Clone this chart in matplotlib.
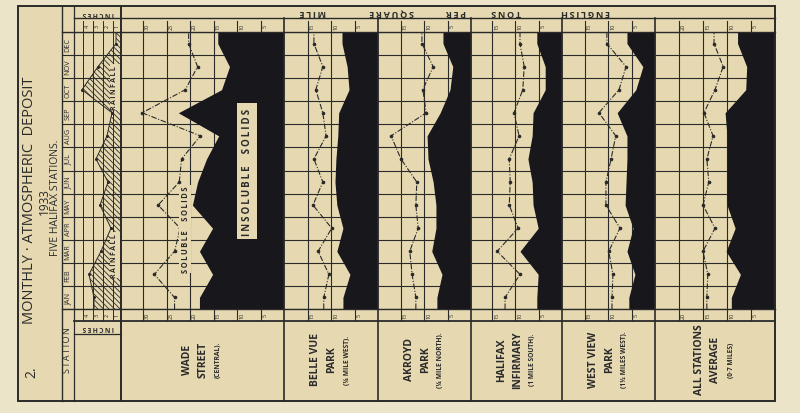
import matplotlib
matplotlib.use("Agg")
import matplotlib.pyplot as plt

plt.rcParams['font.family'] = ['Open Sans', 'DejaVu Sans']
plt.rcParams['hatch.linewidth'] = 0.6

MONTHS = ["JAN", "FEB", "MAR", "APR", "MAY", "JUN",
          "JUL", "AUG", "SEP", "OCT", "NOV", "DEC"]

# rainfall, inches (JAN..DEC)
rainfall = [2.9, 3.4, 2.2, 1.2, 2.3, 1.5, 2.7, 1.6, 1.1, 4.1, 2.5, 0.7]

# english tons per square mile (JAN..DEC)
wade_insoluble = [18.0, 15.2, 18.0, 15.2, 19.5, 18.4, 16.5, 13.9, 22.5, 13.3, 11.6, 14.1]
wade_soluble = [23.3, 27.6, 23.3, 22.1, 26.8, 22.3, 21.8, 17.8, 30.2, 21.0, 18.4, 20.3]

bellevue_insoluble = [7.5, 6.0, 8.8, 7.5, 8.8, 9.2, 9.0, 8.6, 8.4, 6.2, 6.6, 7.7]
bellevue_soluble = [11.6, 10.5, 12.8, 9.9, 13.9, 11.8, 13.7, 11.1, 11.8, 13.3, 11.8, 13.7]

akroyd_insoluble = [7.3, 6.2, 8.4, 7.5, 7.5, 8.1, 9.2, 9.4, 6.6, 4.5, 3.9, 6.0]
akroyd_soluble = [11.8, 12.6, 13.1, 11.3, 11.8, 11.6, 15.0, 17.1, 9.6, 10.3, 8.1, 10.5]

infirmary_insoluble = [5.4, 5.1, 9.0, 5.1, 6.2, 6.4, 7.3, 6.4, 6.2, 3.6, 3.6, 5.4]
infirmary_soluble = [12.2, 9.0, 13.9, 9.4, 11.3, 11.1, 11.3, 9.2, 10.3, 8.4, 8.1, 9.0]

westview_insoluble = [5.6, 4.3, 6.0, 4.7, 6.4, 6.2, 6.0, 6.0, 8.1, 4.1, 2.6, 6.0]
westview_soluble = [9.2, 9.0, 9.9, 7.5, 10.5, 10.5, 9.4, 8.4, 12.0, 7.7, 6.2, 10.3]

average_insoluble = [9.1, 7.2, 10.2, 8.3, 10.0, 10.0, 10.0, 10.0, 10.4, 6.1, 5.9, 7.8]
average_soluble = [14.2, 14.0, 15.0, 12.5, 15.0, 13.8, 14.2, 12.9, 14.8, 12.5, 10.8, 12.7]

station_names = [
    ("WADE", "STREET", "(CENTRAL)."),
    ("BELLE VUE", "PARK", "(\u00bc MILE WEST)."),
    ("AKROYD", "PARK", "(\u00bc MILE NORTH)."),
    ("HALIFAX", "INFIRMARY", "(1 MILE SOUTH)."),
    ("WEST VIEW", "PARK", "(1\u00bd MILES WEST)."),
    ("ALL STATIONS", "AVERAGE", "(0\u00b77 MILES)"),
]
station_data = [
    (wade_insoluble, wade_soluble),
    (bellevue_insoluble, bellevue_soluble),
    (akroyd_insoluble, akroyd_soluble),
    (infirmary_insoluble, infirmary_soluble),
    (westview_insoluble, westview_soluble),
    (average_insoluble, average_soluble),
]
station_ticks = [[5, 10, 15, 20, 25, 30], [5, 10, 15], [5, 10, 15],
                 [5, 10, 15], [5, 10, 15], [5, 10, 15, 20]]
station_max = [34.7, 20.1, 19.9, 19.5, 19.9, 25.0]

# layout in pixels of the 800x414 picture
W, H = 800, 414
EDGES = [121, 284, 378, 471, 562, 655, 775]
TOP, BOT = 33, 310
PAPER = '#ece4c9'
CARD = '#e6d9b1'
INK = '#2a2a2a'
BLACK = '#17171c'


def box(x0, x1, y0, y1):
    return [x0 / W, 1 - y1 / H, (x1 - x0) / W, (y1 - y0) / H]


def spaced(s):
    return "\u2009".join(s).replace("\u2009 \u2009", "   ")


def extend(vals):
    return [vals[0]] + list(vals) + [vals[-1]]


ys = [-0.5] + list(range(12)) + [11.5]

fig = plt.figure(figsize=(8, 4.14), dpi=100)
fig.patch.set_facecolor(PAPER)

bg = fig.add_axes([0, 0, 1, 1], zorder=0)
bg.set_xlim(0, W)
bg.set_ylim(H, 0)
bg.axis('off')
bg.add_patch(plt.Rectangle((18, 7), 757, 395, facecolor=CARD, edgecolor='none'))


def month_grid(ax):
    for k in range(13):
        ax.axhline(k - 0.5, color=INK, lw=0.8, zorder=1)


# month column
mc = fig.add_axes(box(62, 74, TOP, BOT), zorder=1)
mc.set_xlim(0, 1)
mc.set_ylim(-0.5, 11.5)
mc.axis('off')
month_grid(mc)
for i, m in enumerate(MONTHS):
    mc.text(0.5, i, m, rotation=90, ha='center', va='center',
            fontsize=5.2, color=INK)

# rainfall strip
ra = fig.add_axes(box(74, 121, TOP, BOT), zorder=1)
ra.set_xlim(4.9, 0.2)
ra.set_ylim(-0.5, 11.5)
ra.axis('off')
month_grid(ra)
for t in [1, 2, 3, 4]:
    ra.axvline(t, ymin=-0.04, ymax=1.04, clip_on=False, color=INK, lw=0.7)
    ra.annotate(str(t), xy=(t, 1), xycoords=ra.get_xaxis_transform(),
                xytext=(1.2, 4.5), textcoords='offset points', rotation=90,
                fontsize=4, ha='left', va='center', color=INK)
    ra.annotate(str(t), xy=(t, 0), xycoords=ra.get_xaxis_transform(),
                xytext=(1.2, -4), textcoords='offset points', rotation=90,
                fontsize=4, ha='left', va='center', color=INK)
ra.fill_betweenx(ys, 0, extend(rainfall), facecolor='none', edgecolor=INK,
                 hatch='\\\\\\\\\\\\', lw=0, zorder=2)
ra.plot(extend(rainfall), ys, color=INK, lw=0.7, zorder=3)
ra.plot(rainfall, range(12), 'o', color=INK, ms=1.2, zorder=3)

# station panels
for j, ((ins, sol), ticks, vmax) in enumerate(zip(station_data, station_ticks, station_max)):
    ax = fig.add_axes(box(EDGES[j], EDGES[j + 1], TOP, BOT), zorder=1)
    ax.set_xlim(vmax, 0)
    ax.set_ylim(-0.5, 11.5)
    ax.axis('off')
    month_grid(ax)
    for t in ticks:
        ax.axvline(t, ymin=-0.04, ymax=1.04, clip_on=False, color=INK, lw=0.8, zorder=1)
        ax.annotate(str(t), xy=(t, 1), xycoords=ax.get_xaxis_transform(),
                    xytext=(1.5, 4.5), textcoords='offset points', rotation=90,
                    fontsize=4, ha='left', va='center', color=INK)
        ax.annotate(str(t), xy=(t, 0), xycoords=ax.get_xaxis_transform(),
                    xytext=(1.5, -4), textcoords='offset points', rotation=90,
                    fontsize=4, ha='left', va='center', color=INK)
    ax.fill_betweenx(ys, 0, extend(ins), color=BLACK, lw=0, zorder=2)
    ax.plot(extend(sol), ys, color=INK, lw=0.8, ls=(0, (5, 1.5, 1, 1.5)), zorder=3)
    ax.plot(sol, range(12), 'o', color=INK, ms=1.6, zorder=3)

# frame, lines and lettering on top
fr = fig.add_axes([0, 0, 1, 1], zorder=3)
fr.set_xlim(0, W)
fr.set_ylim(H, 0)
fr.axis('off')
fr.patch.set_visible(False)

fr.add_patch(plt.Rectangle((18, 7), 757, 395, facecolor='none', edgecolor=INK, lw=1.4))
fr.plot([62, 62], [7, 402], color=INK, lw=1.0)
fr.plot([74, 74], [7, 402], color=INK, lw=0.9)
fr.plot([121, 121], [7, 402], color=INK, lw=1.4)
for x in EDGES[1:-1]:
    fr.plot([x, x], [19, 402], color=INK, lw=1.2)
fr.plot([74, 775], [19, 19], color=INK, lw=1.0)
fr.plot([62, 775], [TOP, TOP], color=INK, lw=1.0)
fr.plot([62, 775], [BOT, BOT], color=INK, lw=1.0)
fr.plot([74, 775], [322, 322], color=INK, lw=1.3)
fr.plot([74, 121], [335, 335], color=INK, lw=0.9)

fr.text(30, 200, "MONTHLY \u00b7 ATMOSPHERIC  DEPOSIT", rotation=90,
        ha='center', va='center', fontsize=10.5, color=INK)
fr.text(44, 202, "1933", rotation=90, ha='center', va='center',
        fontsize=8.5, color=INK)
fr.text(55, 198, "FIVE HALIFAX STATIONS.", rotation=90, ha='center',
        va='center', fontsize=7.5, color=INK)
fr.text(32, 372, "2.", rotation=90, ha='center', va='center',
        fontsize=10, color=INK)
fr.text(68, 350, spaced("STATION"), rotation=90, ha='center', va='center',
        fontsize=6.5, color=INK)

fr.text(98, 13, spaced("INCHES"), rotation=180, ha='center', va='center',
        fontsize=4.8, color=INK, fontweight='bold')
fr.text(98, 328, spaced("INCHES"), rotation=180, ha='center', va='center',
        fontsize=4.8, color=INK, fontweight='bold')
for word, x in [("ENGLISH", 586), ("TONS", 506), ("PER", 456),
                ("SQUARE", 392), ("MILE", 313)]:
    fr.text(x, 13, spaced(word), rotation=180, ha='center', va='center',
            fontsize=6.5, color=INK, fontweight='bold')

label_box = dict(boxstyle='square,pad=0.15', facecolor=CARD, edgecolor='none')
fr.text(115, 88, spaced("RAINFALL"), rotation=90, ha='center', va='center',
        fontsize=5, color=INK, fontweight='bold', bbox=label_box)
fr.text(115, 256, spaced("RAINFALL"), rotation=90, ha='center', va='center',
        fontsize=5, color=INK, fontweight='bold', bbox=label_box)
fr.text(185, 230, spaced("SOLUBLE  SOLIDS"), rotation=90, ha='center',
        va='center', fontsize=5.5, color=INK, fontweight='bold', bbox=label_box)
fr.text(247, 172, spaced("INSOLUBLE  SOLIDS"), rotation=90, ha='center',
        va='center', fontsize=7, color=INK, fontweight='bold',
        bbox=dict(boxstyle='square,pad=0.5', facecolor=CARD, edgecolor='none'))

for j, (a, b, c) in enumerate(station_names):
    xc = (EDGES[j] + EDGES[j + 1]) / 2
    fr.text(xc - 15, 360, a, rotation=90, ha='center', va='center',
            fontsize=7.5, fontweight='bold', color=INK)
    fr.text(xc + 1, 360, b, rotation=90, ha='center', va='center',
            fontsize=7.5, fontweight='bold', color=INK)
    fr.text(xc + 16, 360, c, rotation=90, ha='center', va='center',
            fontsize=4.8, fontweight='bold', color=INK)

fig.savefig("out.png", dpi=100, facecolor=PAPER)
